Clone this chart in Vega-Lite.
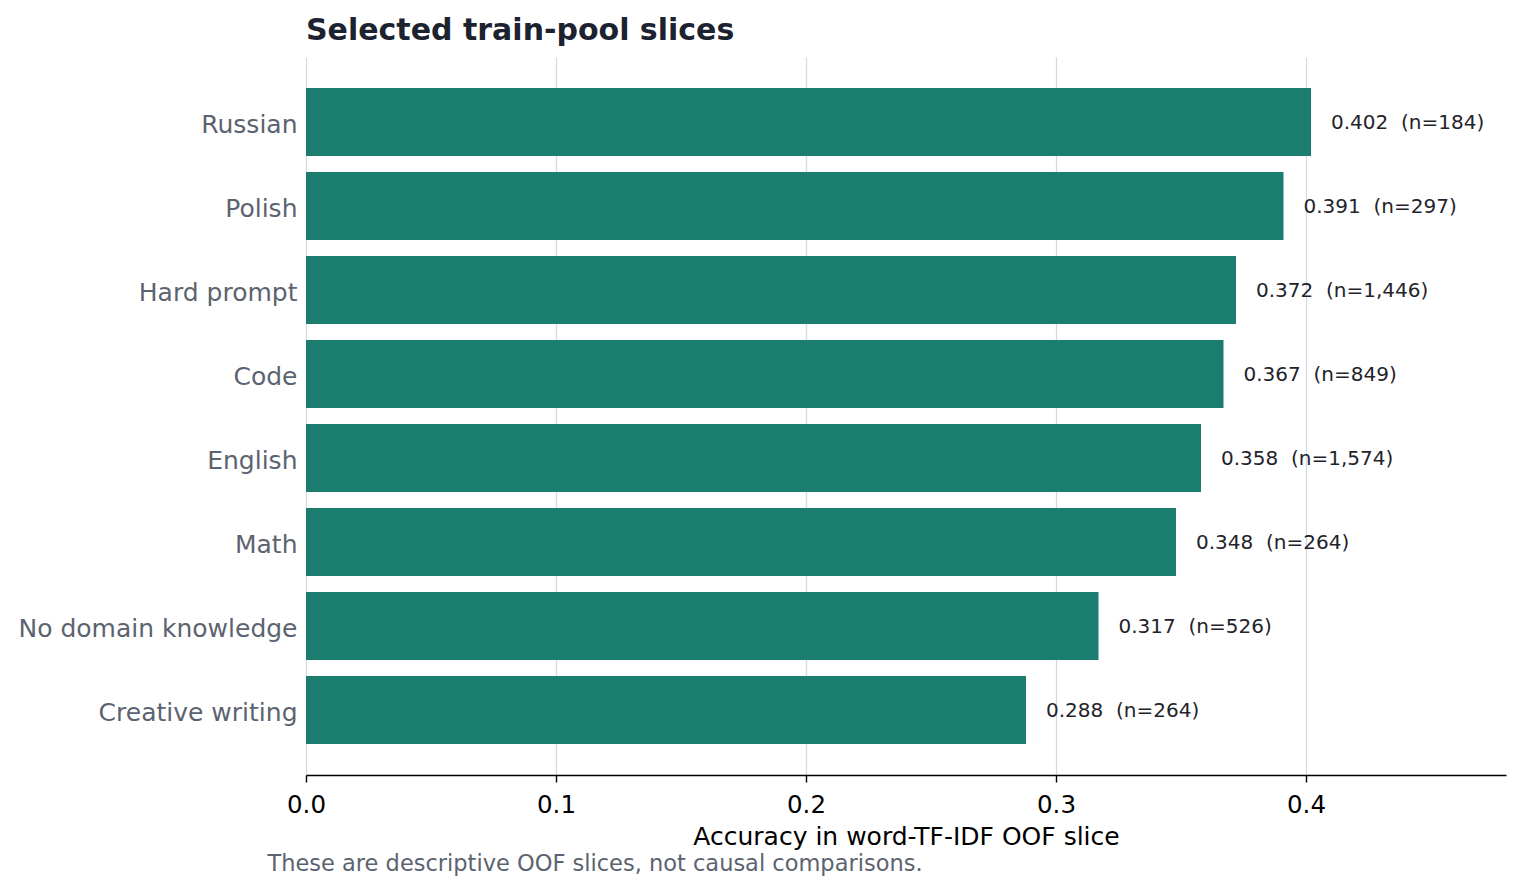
{
  "$schema": "https://vega.github.io/schema/vega-lite/v6.json",
  "width": 1200,
  "height": 718,
  "autosize": {"type": "none"},
  "padding": {"left": 306, "top": 57, "right": 17, "bottom": 118},
  "background": "white",
  "config": {
    "font": "DejaVu Sans",
    "view": {"stroke": null}
  },
  "title": {
    "text": "Selected train-pool slices",
    "anchor": "start",
    "frame": "group",
    "font": "DejaVu Sans",
    "fontSize": 30,
    "fontWeight": "bold",
    "color": "#1c2230",
    "offset": 11
  },
  "data": {
    "values": [
      {"slice": "Russian", "accuracy": 0.402, "label": "0.402\u00a0 (n=184)"},
      {"slice": "Polish", "accuracy": 0.391, "label": "0.391\u00a0 (n=297)"},
      {"slice": "Hard prompt", "accuracy": 0.372, "label": "0.372\u00a0 (n=1,446)"},
      {"slice": "Code", "accuracy": 0.367, "label": "0.367\u00a0 (n=849)"},
      {"slice": "English", "accuracy": 0.358, "label": "0.358\u00a0 (n=1,574)"},
      {"slice": "Math", "accuracy": 0.348, "label": "0.348\u00a0 (n=264)"},
      {"slice": "No domain knowledge", "accuracy": 0.317, "label": "0.317\u00a0 (n=526)"},
      {"slice": "Creative writing", "accuracy": 0.288, "label": "0.288\u00a0 (n=264)"}
    ]
  },
  "encoding": {
    "y": {
      "field": "slice",
      "type": "nominal",
      "sort": null,
      "scale": {"paddingInner": 0.19, "paddingOuter": 0.37},
      "axis": {
        "title": "These are descriptive OOF slices, not causal comparisons.",
        "titleAngle": 0,
        "titleX": -39,
        "titleY": 813,
        "titleAlign": "left",
        "titleBaseline": "alphabetic",
        "titleFontSize": 22.5,
        "titleFontWeight": "normal",
        "titleColor": "#5c6370",
        "domain": false,
        "ticks": false,
        "labelFontSize": 25,
        "labelColor": "#5c6370",
        "labelPadding": 9,
        "labelLimit": 500,
        "labelOffset": 3
      }
    },
    "x": {
      "field": "accuracy",
      "type": "quantitative",
      "scale": {"domain": [0, 0.48], "nice": false},
      "axis": {
        "title": "Accuracy in word-TF-IDF OOF slice",
        "values": [0, 0.1, 0.2, 0.3, 0.4],
        "format": ".1f",
        "labelFlush": false,
        "labelFontSize": 24.5,
        "labelColor": "black",
        "labelPadding": 11,
        "titleFontSize": 25,
        "titleFontWeight": "normal",
        "titleColor": "black",
        "titlePadding": 8,
        "domainColor": "black",
        "domainWidth": 1.6,
        "tickColor": "black",
        "tickSize": 7,
        "tickWidth": 1.4,
        "grid": true,
        "gridColor": "#d2dbe4",
        "gridWidth": 1.3
      }
    }
  },
  "layer": [
    {"mark": {"type": "bar", "color": "#1a7d70"}},
    {
      "mark": {
        "type": "text",
        "align": "left",
        "baseline": "middle",
        "dx": 20,
        "dy": 1,
        "fontSize": 20,
        "color": "#1f232b"
      },
      "encoding": {"text": {"field": "label"}}
    }
  ]
}
